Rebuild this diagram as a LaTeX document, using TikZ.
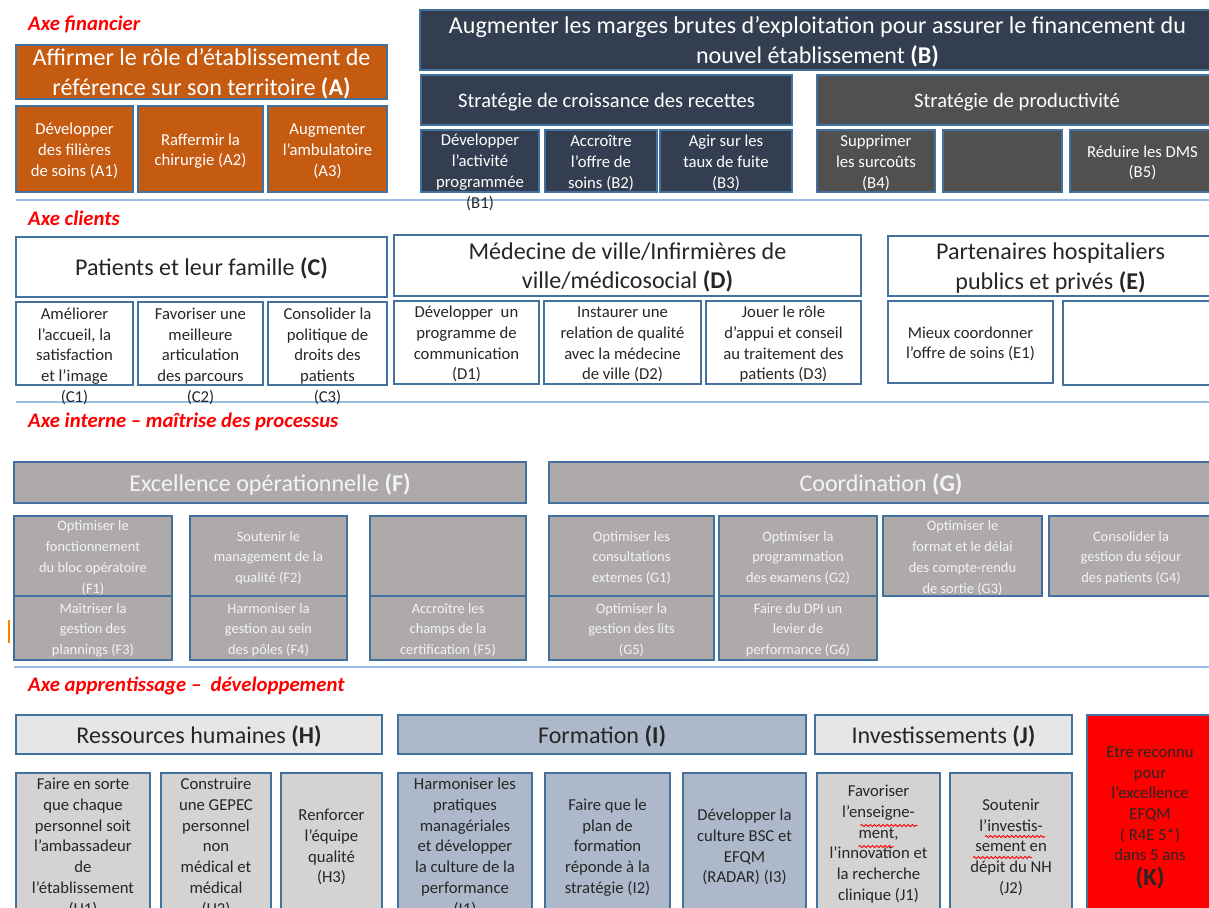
\documentclass[tikz,border=0pt]{standalone}
\usepackage{fontspec}
\setmainfont{Carlito}
\usetikzlibrary{decorations.pathmorphing}

\definecolor{edge}{HTML}{41719C}
\definecolor{rouille}{HTML}{C55A11}
\definecolor{marine}{HTML}{333F50}
\definecolor{ardoise}{HTML}{505050}
\definecolor{taupe}{HTML}{AEAAAA}
\definecolor{perle}{HTML}{E7E6E6}
\definecolor{perle2}{HTML}{D4D2D2}
\definecolor{bleugris}{HTML}{ADB9CA}
\definecolor{trait}{HTML}{95BDE6}
\definecolor{encre}{HTML}{262626}
\definecolor{blanc}{HTML}{F4F4F4}

% texte centre, sans encombrement (le cadre garde sa taille)
\newcommand\tx[2][0pt]{\raisebox{\dimexpr#1-0.37em\relax}[0pt][0pt]{\begin{tabular}{@{}c@{}}#2\end{tabular}}}

\begin{document}
\begin{tikzpicture}[x=0.02cm, y=-0.02cm,
		box/.style={draw=edge, line width=0.9pt, anchor=north west, inner sep=0pt, outer sep=0pt, font=\fontsize{9.5}{11.8}\selectfont},
		wh/.style 2 args={minimum width=#1*0.02cm, minimum height=#2*0.02cm},
		hd/.style={font=\fontsize{13.7}{17}\selectfont},
		sh/.style={font=\fontsize{11.7}{14}\selectfont},
		xs/.style={font=\fontsize{8.2}{11.8}\selectfont},
		fin/.style={box, fill=rouille, text=white},
		nav/.style={box, fill=marine, text=white},
		prod/.style={box, fill=ardoise, text=white},
		cli/.style={box, fill=white, text=encre},
		proc/.style={box, fill=taupe, text=blanc},
		rh/.style={box, fill=perle, text=encre},
		rh2/.style={box, fill=perle2, text=encre},
		form/.style={box, fill=bleugris, text=encre},
		axe/.style={anchor=west, text=red, font=\fontsize{11.8}{14}\selectfont\bfseries\itshape},
		sep/.style={draw=trait, line width=1.6pt},
		spell/.style={draw=red, line width=0.5pt, decorate, decoration={snake, amplitude=0.6pt, segment length=2.4pt}}]
	\clip (0,0) rectangle (1209,907);

	% traits de separation des axes
	\draw[sep] (16,200) -- (1209,200);
	\draw[sep] (16,402) -- (1209,402);
	\draw[sep] (14,667) -- (1209,667);
	\draw[draw=orange, line width=1.2pt] (9,620) -- (9,643);

	% axe financier
	\node[axe] (axfin) at (22,24) {Axe financier};
	\node[fin, hd, wh={371}{54}] (a) at (16,45) {\tx{Affirmer le rôle d’établissement de\\référence sur son territoire \textbf{(A)}}};
	\node[fin, wh={117}{86}] (a1) at (16,106) {\tx{Développer\\des filières\\de soins (A1)}};
	\node[fin, wh={125}{86}] (a2) at (138,106) {\tx{Raffermir la\\chirurgie (A2)}};
	\node[fin, wh={119}{86}] (a3) at (268,106) {\tx{Augmenter\\l’ambulatoire\\(A3)}};

	\node[nav, hd, wh={795}{60}] (b) at (420,10) {\tx{Augmenter les marges brutes d’exploitation pour assurer le financement du\\nouvel établissement \textbf{(B)}}};
	\node[nav, sh, wh={371}{50}] (bcr) at (421,75) {\tx{Stratégie de croissance des recettes}};
	\node[prod, sh, wh={400}{50}] (bpr) at (817,75) {\tx{Stratégie de productivité}};
	\node[nav, wh={118}{62}] (b1) at (421,130) {\tx[-5.5pt]{Développer\\l’activité\\programmée\\\textcolor{encre}{(B1)}}};
	\node[nav, wh={112}{62}] (b2) at (545,130) {\tx{Accroître\\l’offre de\\soins (B2)}};
	\node[nav, wh={132}{62}] (b3) at (660,130) {\tx{Agir sur les\\taux de fuite\\(B3)}};
	\node[prod, wh={118}{62}] (b4) at (817,130) {\tx{Supprimer\\les surcoûts\\(B4)}};
	\node[prod, wh={119}{62}] (bvide) at (943,130) {};
	\node[prod, wh={145}{62}] (b5) at (1070,130) {\tx{Réduire les DMS\\(B5)}};

	% axe clients
	\node[axe] (axcli) at (22,218) {Axe clients};
	\node[cli, hd, wh={371}{60}] (c) at (16,237) {\tx{Patients et leur famille \textbf{(C)}}};
	\node[cli, wh={117}{83}] (c1) at (16,302) {\tx[-6.3pt]{Améliorer\\l’accueil, la\\satisfaction\\et l’image\\(C1)}};
	\node[cli, wh={125}{83}] (c2) at (138,302) {\tx[-6.3pt]{Favoriser une\\meilleure\\articulation\\des parcours\\(C2)}};
	\node[cli, wh={119}{83}] (c3) at (268,302) {\tx[-6.3pt]{Consolider la\\politique de\\droits des\\patients\\(C3)}};

	\node[cli, hd, wh={467}{61}] (d) at (394,235) {\tx{Médecine de ville/Infirmières de\\ville/médicosocial \textbf{(D)}}};
	\node[cli, wh={145}{83}] (d1) at (394,301) {\tx{Développer~ un\\programme de\\communication\\(D1)}};
	\node[cli, wh={157}{83}] (d2) at (544,301) {\tx{Instaurer une\\relation de qualité\\avec la médecine\\de ville (D2)}};
	\node[cli, wh={155}{83}] (d3) at (706,301) {\tx{Jouer le rôle\\d’appui et conseil\\au traitement des\\patients (D3)}};

	\node[cli, hd, wh={325}{60}] (e) at (888,236) {\tx{Partenaires hospitaliers\\publics et privés \textbf{(E)}}};
	\node[cli, wh={165}{82}] (e1) at (888,301) {\tx{Mieux coordonner\\l’offre de soins (E1)}};
	\node[cli, wh={150}{84}] (evide) at (1063,301) {};

	% axe interne
	\node[axe] (axint) at (22,422) {Axe interne – maîtrise des processus};
	\node[proc, hd, wh={512}{41}] (f) at (14,462) {\tx{Excellence opérationnelle \textbf{(F)}}};
	\node[proc, xs, wh={158}{80}] (f1) at (14,516) {\tx{Optimiser le\\fonctionnement\\du bloc opératoire\\(F1)}};
	\node[proc, xs, wh={157}{80}] (f2) at (190,516) {\tx{Soutenir le\\management de la\\qualité (F2)}};
	\node[proc, xs, wh={156}{80}] (fvide) at (370,516) {};
	\node[proc, xs, wh={158}{64}] (f3) at (14,596) {\tx{Maîtriser la\\gestion des\\plannings (F3)}};
	\node[proc, xs, wh={157}{64}] (f4) at (190,596) {\tx{Harmoniser la\\gestion au sein\\des pôles (F4)}};
	\node[proc, xs, wh={156}{64}] (f5) at (370,596) {\tx{Accroître les\\champs de la\\certification (F5)}};

	\node[proc, hd, wh={664}{41}] (g) at (549,462) {\tx{Coordination \textbf{(G)}}};
	\node[proc, xs, wh={165}{80}] (g1) at (549,516) {\tx{Optimiser les\\consultations\\externes (G1)}};
	\node[proc, xs, wh={158}{80}] (g2) at (719,516) {\tx{Optimiser la\\programmation\\des examens (G2)}};
	\node[proc, xs, wh={159}{80}] (g3) at (883,516) {\tx{Optimiser le\\format et le délai\\des compte-rendu\\de sortie (G3)}};
	\node[proc, xs, wh={164}{80}] (g4) at (1049,516) {\tx{Consolider la\\gestion du séjour\\des patients (G4)}};
	\node[proc, xs, wh={165}{64}] (g5) at (549,596) {\tx{Optimiser la\\gestion des lits\\(G5)}};
	\node[proc, xs, wh={158}{64}] (g6) at (719,596) {\tx{Faire du DPI un\\levier de\\performance (G6)}};

	% axe apprentissage
	\node[axe] (axapp) at (22,686) {Axe apprentissage –~ développement};
	\node[rh, hd, wh={366}{39}] (h) at (16,715) {\tx{Ressources humaines \textbf{(H)}}};
	\node[rh2, wh={134}{145}] (h1) at (16,773) {\tx{Faire en sorte\\que chaque\\personnel soit\\l’ambassadeur\\de\\l’établissement\\(H1)}};
	\node[rh2, wh={110}{145}] (h2) at (161,773) {\tx{Construire\\une GEPEC\\personnel\\non\\médical et\\médical\\(H2)}};
	\node[rh2, wh={101}{145}] (h3) at (281,773) {\tx{Renforcer\\l’équipe\\qualité\\(H3)}};

	\node[form, hd, wh={408}{39}] (i) at (398,715) {\tx{Formation \textbf{(I)}}};
	\node[form, wh={134}{145}] (i1) at (398,773) {\tx{Harmoniser les\\pratiques\\managériales\\et développer\\la culture de la\\performance\\(I1)}};
	\node[form, wh={125}{145}] (i2) at (545,773) {\tx{Faire que le\\plan de\\formation\\réponde à la\\stratégie (I2)}};
	\node[form, wh={123}{145}] (i3) at (683,773) {\tx{Développer la\\culture BSC et\\EFQM\\(RADAR) (I3)}};

	\node[rh, hd, wh={257}{39}] (j) at (815,715) {\tx{Investissements \textbf{(J)}}};
	\node[rh2, wh={123}{145}] (j1) at (817,773) {\tx[2pt]{Favoriser\\l’enseigne-\\ment,\\l’innovation et\\la recherche\\clinique (J1)}};
	\node[rh2, wh={122}{145}] (j2) at (950,773) {\tx{Soutenir\\l’investis-\\sement en\\dépit du NH\\(J2)}};
	\draw[spell] ([shift={(-18,-20)}]j1.center) -- ++(57,0);
	\draw[spell] ([shift={(-20,1)}]j1.center) -- ++(35,0);
	\draw[spell] ([shift={(-26,-9)}]j2.center) -- ++(60,0);
	\draw[spell] ([shift={(-38,12)}]j2.center) -- ++(59,0);

	\node[box, fill=red, text=encre, wh={126}{200}] (k) at (1087,715) {\tx{Etre reconnu\\pour\\l’excellence\\EFQM\\( R4E 5*)\\dans 5 ans\\{\fontsize{14}{16}\selectfont\bfseries (K)}}};
\end{tikzpicture}
\end{document}
